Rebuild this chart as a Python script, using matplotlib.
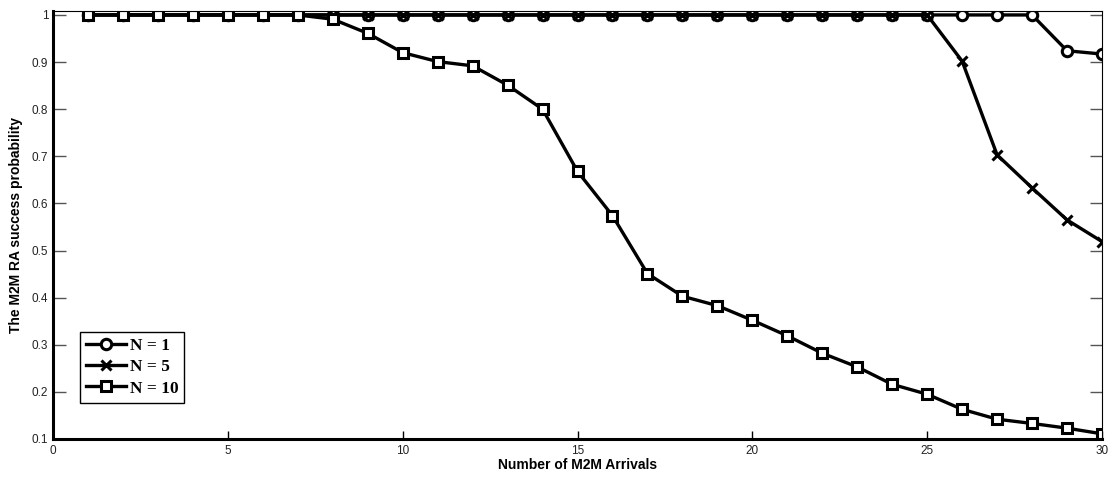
import numpy as np
import matplotlib
matplotlib.use("Agg")
import matplotlib.pyplot as plt

arrivals = np.arange(1, 31)
p_n1 = [1.0] * 28 + [0.924, 0.917]
p_n5 = [1.0] * 25 + [0.902, 0.703, 0.633, 0.565, 0.519]
p_n10 = [1.0] * 7 + [0.991, 0.961, 0.920, 0.901, 0.892, 0.851, 0.800, 0.668,
                     0.574, 0.451, 0.403, 0.383, 0.352, 0.319, 0.282, 0.253,
                     0.216, 0.195, 0.163, 0.142, 0.133, 0.123, 0.111]
labels = ["N = 1", "N = 5", "N = 10"]

fig = plt.figure(figsize=(11.12, 4.78), dpi=100)
ax = fig.add_axes([0.0477, 0.0816, 0.9433, 0.896])

kw = dict(color="black", lw=2.4, markersize=7.5, markeredgewidth=2.2,
          markerfacecolor="white")
ax.plot(arrivals, p_n1, marker="o", label=labels[0], **kw)
ax.plot(arrivals, p_n5, marker="x", label=labels[1], **kw)
ax.plot(arrivals, p_n10, marker="s", label=labels[2], **kw)

ax.set_xlim(0, 30)
ax.set_ylim(0.1, 1.009)
ax.set_xticks(np.arange(0, 31, 5))
ax.set_yticks(np.round(np.arange(0.1, 1.01, 0.1), 1))
ax.set_yticklabels(["0.1", "0.2", "0.3", "0.4", "0.5", "0.6", "0.7", "0.8", "0.9", "1"])
ax.tick_params(axis="both", direction="in", width=1, labelsize=8.5,
               labelcolor="#222222")
ax.tick_params(axis="y", right=True, length=9, color="#555555")
ax.tick_params(axis="x", length=6, pad=4, color="black")
for t in ax.get_xticklabels() + ax.get_yticklabels():
    t.set_family("Liberation Sans")

ax.spines["left"].set_linewidth(2.2)
ax.spines["bottom"].set_linewidth(2.2)
ax.spines["top"].set_linewidth(0.8)
ax.spines["right"].set_linewidth(0.8)

ax.set_xlabel("Number of M2M Arrivals", fontsize=10, fontweight="bold",
              family="Liberation Sans", labelpad=1)
ax.set_ylabel("The M2M RA success probability", fontsize=10, fontweight="bold",
              family="Liberation Sans", labelpad=6)

leg = ax.legend(loc="lower left", bbox_to_anchor=(0.026, 0.085), fancybox=False,
                edgecolor="black", framealpha=1, handlelength=2.3,
                borderaxespad=0, borderpad=0.35, labelspacing=0.3, handletextpad=0.2,
                prop=dict(family="Liberation Serif", weight="bold", size=12.5))
leg.get_frame().set_linewidth(1.0)

fig.savefig("out.png", dpi=100)
